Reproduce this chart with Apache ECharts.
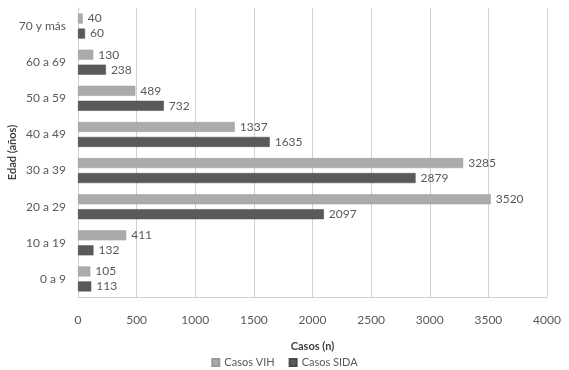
<!DOCTYPE html>
<html><head><meta charset="utf-8">
<script src="https://cdn.jsdelivr.net/npm/echarts@6/dist/echarts.min.js"></script>
<style>html,body{margin:0;padding:0;background:#fff}#c{width:569px;height:370px}</style>
</head><body><div id="c"></div>
<script>
const categories = ["0 a 9","10 a 19","20 a 29","30 a 39","40 a 49","50 a 59","60 a 69","70 y más"];
const casosVIH  = [105, 411, 3520, 3285, 1337, 489, 130, 40];
const casosSIDA = [113, 132, 2097, 2879, 1635, 732, 238, 60];
const xTicks = [0, 500, 1000, 1500, 2000, 2500, 3000, 3500, 4000];

const txt = '#595959';
const font = 'Lato';
const chart = echarts.init(document.getElementById('c'));
chart.setOption({
  animation: false,
  textStyle: {fontFamily: font},
  grid: {left: 78, right: 22, top: 8, bottom: 73, containLabel: false, outerBoundsMode: 'none'},
  legend: {
    bottom: -3, left: 'center', data: ['Casos VIH','Casos SIDA'],
    itemWidth: 7, itemHeight: 7, itemGap: 14, icon: 'rect',
    textStyle: {color: txt, fontSize: 11, fontFamily: font}
  },
  xAxis: {
    type: 'value', min: 0, max: 4000, interval: 500,
    name: 'Casos (n)', nameLocation: 'middle', nameGap: 44, nameMoveOverlap: false,
    nameTextStyle: {color: '#404040', fontWeight: 'bold', fontSize: 11, fontFamily: font},
    axisLabel: {color: txt, fontSize: 12, margin: 17, formatter: v => xTicks.includes(v) ? String(v) : ''},
    axisLine: {show: true, lineStyle: {color: '#d0d0d0'}},
    axisTick: {show: false},
    splitLine: {show: true, lineStyle: {color: '#d0d0d0'}}
  },
  yAxis: {
    type: 'category', data: categories,
    name: 'Edad (años)', nameLocation: 'middle', nameGap: 60, nameRotate: 90, nameMoveOverlap: false,
    nameTextStyle: {color: '#404040', fontWeight: 'bold', fontSize: 11, fontFamily: font},
    axisLabel: {color: txt, fontSize: 12, margin: 12},
    axisLine: {show: true, lineStyle: {color: '#d0d0d0'}},
    axisTick: {show: false}
  },
  series: [
    {name: 'Casos VIH', type: 'bar', data: casosVIH, barWidth: 10, barGap: '50%',
     itemStyle: {color: '#ababab', borderColor: '#9a9a9a', borderWidth: 0.5},
     label: {show: true, position: 'right', color: txt, fontSize: 12, distance: 5}},
    {name: 'Casos SIDA', type: 'bar', data: casosSIDA, barWidth: 10, barGap: '50%',
     itemStyle: {color: '#5a5a5a', borderColor: '#4a4a4a', borderWidth: 0.5},
     label: {show: true, position: 'right', color: txt, fontSize: 12, distance: 5}}
  ]
});
</script></body></html>
